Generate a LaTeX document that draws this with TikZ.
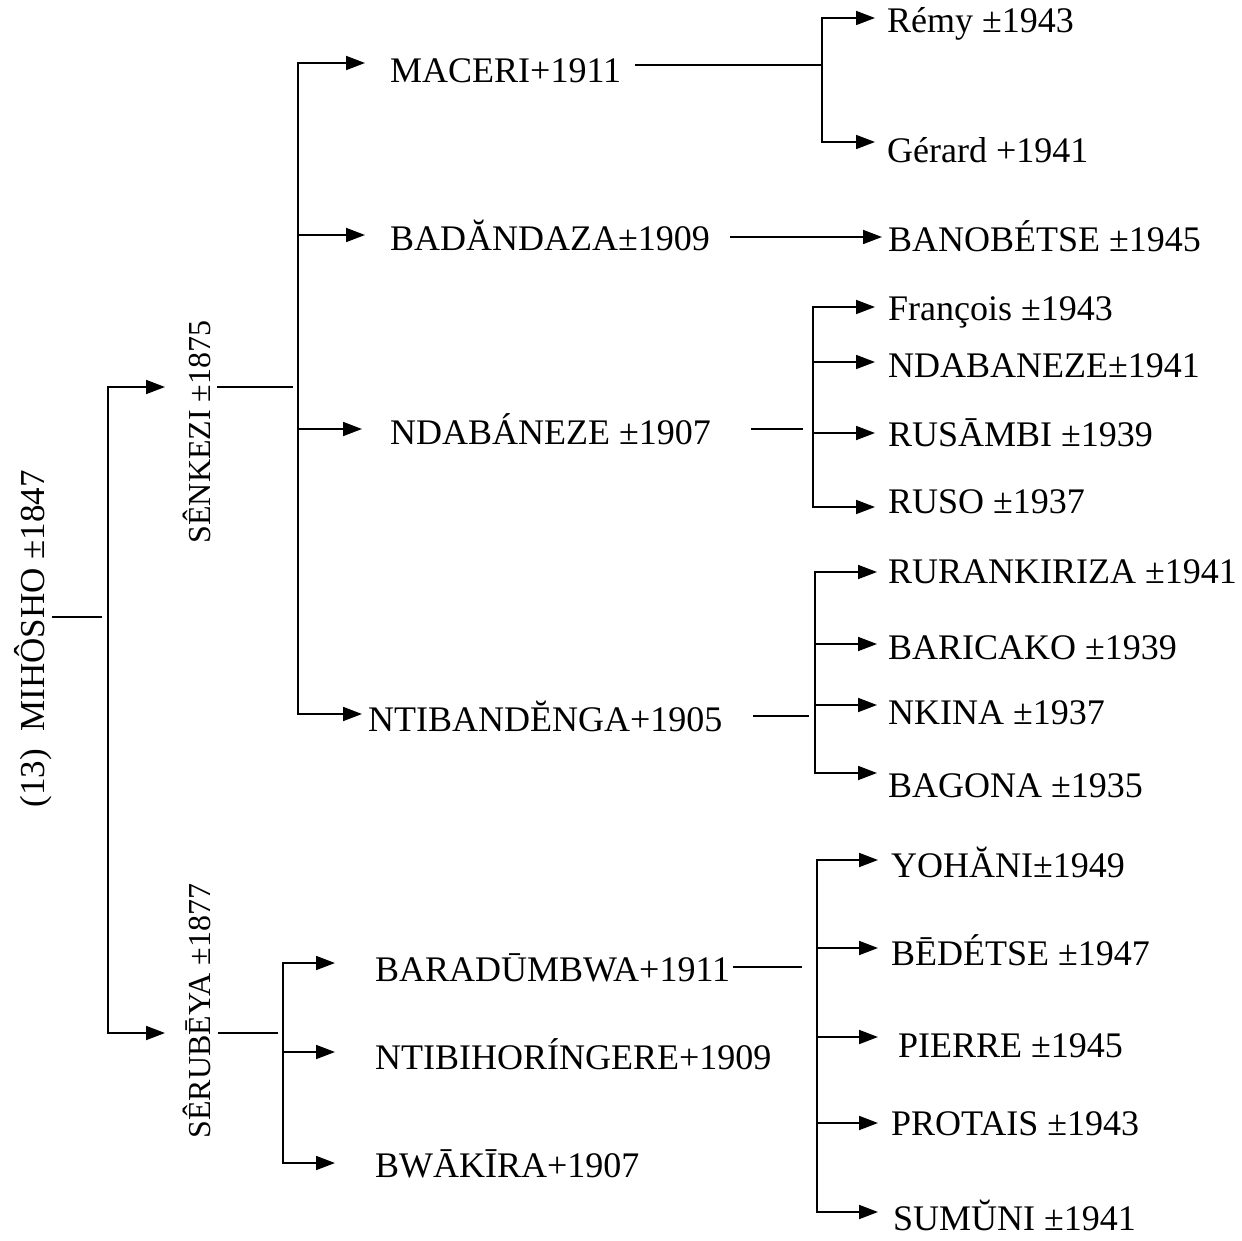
\documentclass[tikz,border=0pt]{standalone}
\usepackage{fontspec}
\setmainfont{Liberation Serif}
\usetikzlibrary{arrows.meta}
\newcommand{\fsA}{\fontsize{36}{43}\selectfont}
\newcommand{\fsR}{\fontsize{35}{42}\selectfont}
\newcommand{\fsB}{\fontsize{32}{38}\selectfont}
\begin{document}
\begin{tikzpicture}[x=1pt,y=-1pt,
  ln/.style={line width=1.8pt},
  arr/.style={line width=1.8pt,-{Triangle[length=19pt,width=14pt]}},
  txt/.style={font=\fsA,inner sep=0pt,anchor=base west},
  rot/.style={inner sep=0pt,anchor=base,rotate=90}]
\useasboundingbox (0,0) rectangle (1242,1241);
\fill[white] (0,0) rectangle (1242,1241);

% --- nodes ---
\node[rot,font=\fsR] (mih) at (44,639) {(13)\ \ MIHÔSHO ±1847};
\node[rot,font=\fsB] (senk) at (210,432) {SÊNKEZI ±1875};
\node[rot,font=\fsB] (seru) at (210,1011) {SÊRUBĒYA ±1877};

\node[txt] (maceri) at (390,83) {MACERI+1911};
\node[txt] (bada) at (390,251) {BADĂNDAZA±1909};
\node[txt] (ndab) at (390,444) {NDABÁNEZE ±1907};
\node[txt] (ntiba) at (368,731) {NTIBANDĔNGA+1905};

\node[txt] (barad) at (375,981) {BARADŪMBWA+1911};
\node[txt] (ntibi) at (375,1069) {NTIBIHORÍNGERE+1909};
\node[txt] (bwak) at (375,1177) {BWĀKĪRA+1907};

\node[txt] (remy) at (887,33) {Rémy ±1943};
\node[txt] (gerard) at (887,163) {Gérard +1941};
\node[txt] (bano) at (888,252) {BANOBÉTSE ±1945};

\node[txt] (franc) at (888,320) {François ±1943};
\node[txt] (ndab2) at (888,377) {NDABANEZE±1941};
\node[txt] (rusa) at (888,446) {RUSĀMBI ±1939};
\node[txt] (ruso) at (888,513) {RUSO ±1937};

\node[txt] (rura) at (888,583) {RURANKIRIZA ±1941};
\node[txt] (bari) at (888,659) {BARICAKO ±1939};
\node[txt] (nkina) at (888,724) {NKINA ±1937};
\node[txt] (bagona) at (888,797) {BAGONA ±1935};

\node[txt] (yoha) at (891,877) {YOHĂNI±1949};
\node[txt] (bede) at (891,965) {BĒDÉTSE ±1947};
\node[txt] (pierre) at (898,1057) {PIERRE ±1945};
\node[txt] (prot) at (891,1135) {PROTAIS ±1943};
\node[txt] (sumu) at (893,1230) {SUMŬNI ±1941};

% --- junction coordinates ---
\coordinate (j0) at (102,617);  \coordinate (b0) at (108,617);
\coordinate (j1) at (293,387);  \coordinate (b1) at (298,387);
\coordinate (j2) at (278,1033); \coordinate (b2) at (283,1033);
\coordinate (b3) at (822,65);
\coordinate (j4) at (803,429);  \coordinate (b4) at (813,429);
\coordinate (j5) at (809,716);  \coordinate (b5) at (815,716);
\coordinate (j6) at (802,967);  \coordinate (b6) at (817,967);

% --- root ---
\draw[ln] ([shift={(8,-22)}]mih.base) -- (j0);
\draw[arr] (b0) |- ([shift={(-45,-45)}]senk.base);
\draw[arr] (b0) |- ([shift={(-45,22)}]seru.base);

% --- SÊNKEZI ---
\draw[ln] ([shift={(7,-45)}]senk.base) -- (j1);
\draw[arr] (b1) |- ([shift={(-25,-20)}]maceri.base west);
\draw[arr] (b1) |- ([shift={(-25,-16)}]bada.base west);
\draw[arr] (b1) |- ([shift={(-28,-15)}]ndab.base west);
\draw[arr] (b1) |- ([shift={(-6,-17)}]ntiba.base west);

% --- SÊRUBĒYA ---
\draw[ln] ([shift={(8,22)}]seru.base) -- (j2);
\draw[arr] (b2) |- ([shift={(-40,-18)}]barad.base west);
\draw[arr] (b2) |- ([shift={(-40,-17)}]ntibi.base west);
\draw[arr] (b2) |- ([shift={(-40,-14)}]bwak.base west);

% --- MACERI ---
\draw[ln] ([shift={(245,-18)}]maceri.base west) -- (b3);
\draw[arr] (b3) |- ([shift={(-12,-15)}]remy.base west);
\draw[arr] (b3) |- ([shift={(-12,-21)}]gerard.base west);

% --- BADĂNDAZA ---
\draw[arr] ([shift={(340,-14)}]bada.base west) -- ([shift={(-6,-15)}]bano.base west);

% --- NDABÁNEZE ---
\draw[ln] ([shift={(361,-15)}]ndab.base west) -- (j4);
\draw[arr] (b4) |- ([shift={(-13,-13)}]franc.base west);
\draw[arr] (b4) |- ([shift={(-13,-15)}]ndab2.base west);
\draw[arr] (b4) |- ([shift={(-13,-13)}]rusa.base west);
\draw[arr] (b4) |- ([shift={(-13,-6)}]ruso.base west);

% --- NTIBANDĔNGA ---
\draw[ln] ([shift={(385,-15)}]ntiba.base west) -- (j5);
\draw[arr] (b5) |- ([shift={(-11,-11)}]rura.base west);
\draw[arr] (b5) |- ([shift={(-11,-15)}]bari.base west);
\draw[arr] (b5) |- ([shift={(-11,-19)}]nkina.base west);
\draw[arr] (b5) |- ([shift={(-11,-24)}]bagona.base west);

% --- BARADŪMBWA ---
\draw[ln] ([shift={(358,-14)}]barad.base west) -- (j6);
\draw[arr] (b6) |- ([shift={(-13,-17)}]yoha.base west);
\draw[arr] (b6) |- ([shift={(-13,-17)}]bede.base west);
\draw[arr] (b6) |- ([shift={(-20,-20)}]pierre.base west);
\draw[arr] (b6) |- ([shift={(-13,-12)}]prot.base west);
\draw[arr] (b6) |- ([shift={(-15,-18)}]sumu.base west);
\end{tikzpicture}
\end{document}
